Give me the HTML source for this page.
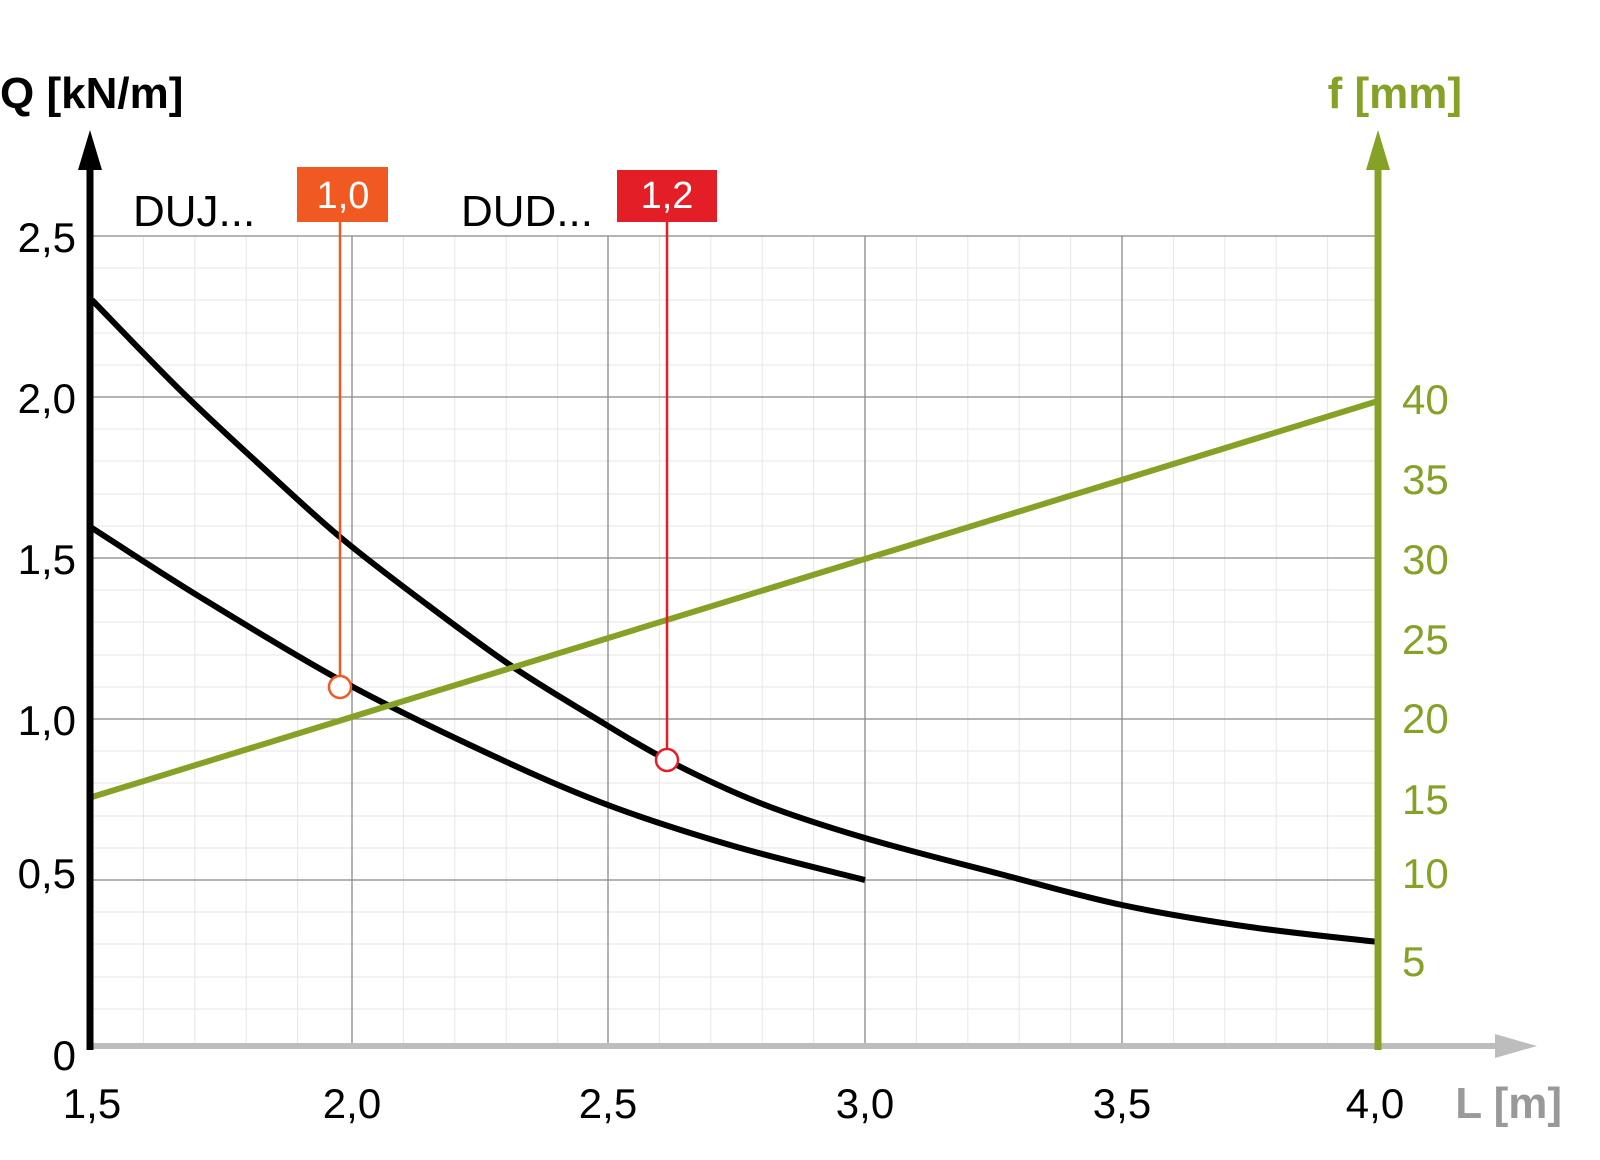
<!DOCTYPE html>
<html><head><style>body{margin:0;background:#fff}svg{display:block}text{font-family:"Liberation Sans",Arial,sans-serif}</style></head>
<body>
<svg width="1600" height="1160" viewBox="0 0 1600 1160" xmlns="http://www.w3.org/2000/svg">
<g stroke="#e6e6e6" stroke-width="1">
<path d="M143.4 236V1043M194.8 236V1043M246.2 236V1043M297.6 236V1043M403.4 236V1043M454.8 236V1043M506.2 236V1043M557.6 236V1043M659.4 236V1043M710.8 236V1043M762.2 236V1043M813.6 236V1043M916.4 236V1043M967.8 236V1043M1019.2 236V1043M1070.6 236V1043M1173.4 236V1043M1224.8 236V1043M1276.2 236V1043M1327.6 236V1043"/>
<path d="M92 268H1378M92 300H1378M92 333H1378M92 365H1378M92 429H1378M92 461H1378M92 494H1378M92 526H1378M92 590H1378M92 622H1378M92 655H1378M92 687H1378M92 751H1378M92 783H1378M92 816H1378M92 848H1378M92 912H1378M92 944H1378M92 977H1378M92 1009H1378"/>
</g>
<g stroke="#888" stroke-width="1.3">
<path d="M352 236V1043M608 236V1043M865 236V1043M1122 236V1043"/>
<path d="M92 236H1378M92 397H1378M92 558H1378M92 719H1378M92 880H1378"/>
</g>
<line x1="92" y1="1046" x2="1500" y2="1046" stroke="#bdbdbd" stroke-width="6"/>
<polygon points="1495,1034 1537,1046 1495,1058" fill="#bdbdbd"/>
<polyline class="sm" fill="none" stroke="#000" stroke-width="6" stroke-linejoin="round" points="92,300 180,390 260,465 340,537 425,603 510,665 590,715 667,760 760,803 865,838 1000,874 1122,905 1250,927 1378,942"/>
<polyline class="sm" fill="none" stroke="#000" stroke-width="6" stroke-linejoin="round" points="92,528 200,597 340,680 470,745 600,802 730,845 865,880"/>
<line x1="92" y1="797" x2="1378" y2="401" stroke="#85a227" stroke-width="6"/>
<line x1="90" y1="1050" x2="90" y2="165" stroke="#000" stroke-width="7"/>
<polygon points="78,170 90,130 102,170" fill="#000"/>
<line x1="1378" y1="1050" x2="1378" y2="165" stroke="#85a227" stroke-width="7"/>
<polygon points="1366,170 1378,130 1390,170" fill="#85a227"/>
<line x1="340" y1="222" x2="340" y2="676" stroke="#f05a22" stroke-width="2.5"/>
<circle cx="340" cy="687" r="11" fill="#fff" stroke="#f05a22" stroke-width="2.5"/>
<line x1="667" y1="222" x2="667" y2="749" stroke="#e31e26" stroke-width="2.5"/>
<circle cx="667" cy="760" r="11" fill="#fff" stroke="#e31e26" stroke-width="2.5"/>
<rect x="297" y="167" width="91" height="55" fill="#f05a22"/>
<text x="343" y="208" font-size="38" fill="#fff" text-anchor="middle">1,0</text>
<rect x="617" y="170" width="100" height="52" fill="#e31e26"/>
<text x="667" y="208" font-size="38" fill="#fff" text-anchor="middle">1,2</text>
<text x="133" y="226" font-size="44">DUJ...</text>
<text x="461" y="226" font-size="44">DUD...</text>
<text x="0" y="108" font-size="44" font-weight="bold">Q [kN/m]</text>
<text x="1462" y="108" font-size="44" font-weight="bold" fill="#85a227" text-anchor="end">f [mm]</text>
<text x="1562" y="1118" font-size="44" font-weight="bold" fill="#999" text-anchor="end">L [m]</text>
<g font-size="42" text-anchor="end">
<text x="76" y="252">2,5</text><text x="76" y="413">2,0</text><text x="76" y="574">1,5</text><text x="76" y="735">1,0</text><text x="76" y="888">0,5</text><text x="76" y="1070">0</text>
</g>
<g font-size="42" text-anchor="middle">
<text x="92" y="1118">1,5</text><text x="352" y="1118">2,0</text><text x="608" y="1118">2,5</text><text x="865" y="1118">3,0</text><text x="1122" y="1118">3,5</text><text x="1375" y="1118">4,0</text>
</g>
<g font-size="42" fill="#85a227">
<text x="1402" y="414">40</text><text x="1402" y="494">35</text><text x="1402" y="574">30</text><text x="1402" y="654">25</text><text x="1402" y="733">20</text><text x="1402" y="814">15</text><text x="1402" y="888">10</text><text x="1402" y="976">5</text>
</g>
</svg>
<script>
document.querySelectorAll('polyline.sm').forEach(function(pl){
  var p=pl.getAttribute('points').trim().split(/\s+/).map(function(s){return s.split(',').map(Number);});
  var d='M'+p[0][0]+' '+p[0][1];
  for(var i=0;i<p.length-1;i++){
    var p0=p[i-1]||p[i],p1=p[i],p2=p[i+1],p3=p[i+2]||p[i+1];
    var c1x=p1[0]+(p2[0]-p0[0])/6,c1y=p1[1]+(p2[1]-p0[1])/6;
    var c2x=p2[0]-(p3[0]-p1[0])/6,c2y=p2[1]-(p3[1]-p1[1])/6;
    d+=' C'+c1x+' '+c1y+' '+c2x+' '+c2y+' '+p2[0]+' '+p2[1];
  }
  var path=document.createElementNS('http://www.w3.org/2000/svg','path');
  path.setAttribute('d',d);path.setAttribute('fill','none');path.setAttribute('stroke','#000');path.setAttribute('stroke-width','6');
  pl.parentNode.replaceChild(path,pl);
});
</script>
</body></html>
